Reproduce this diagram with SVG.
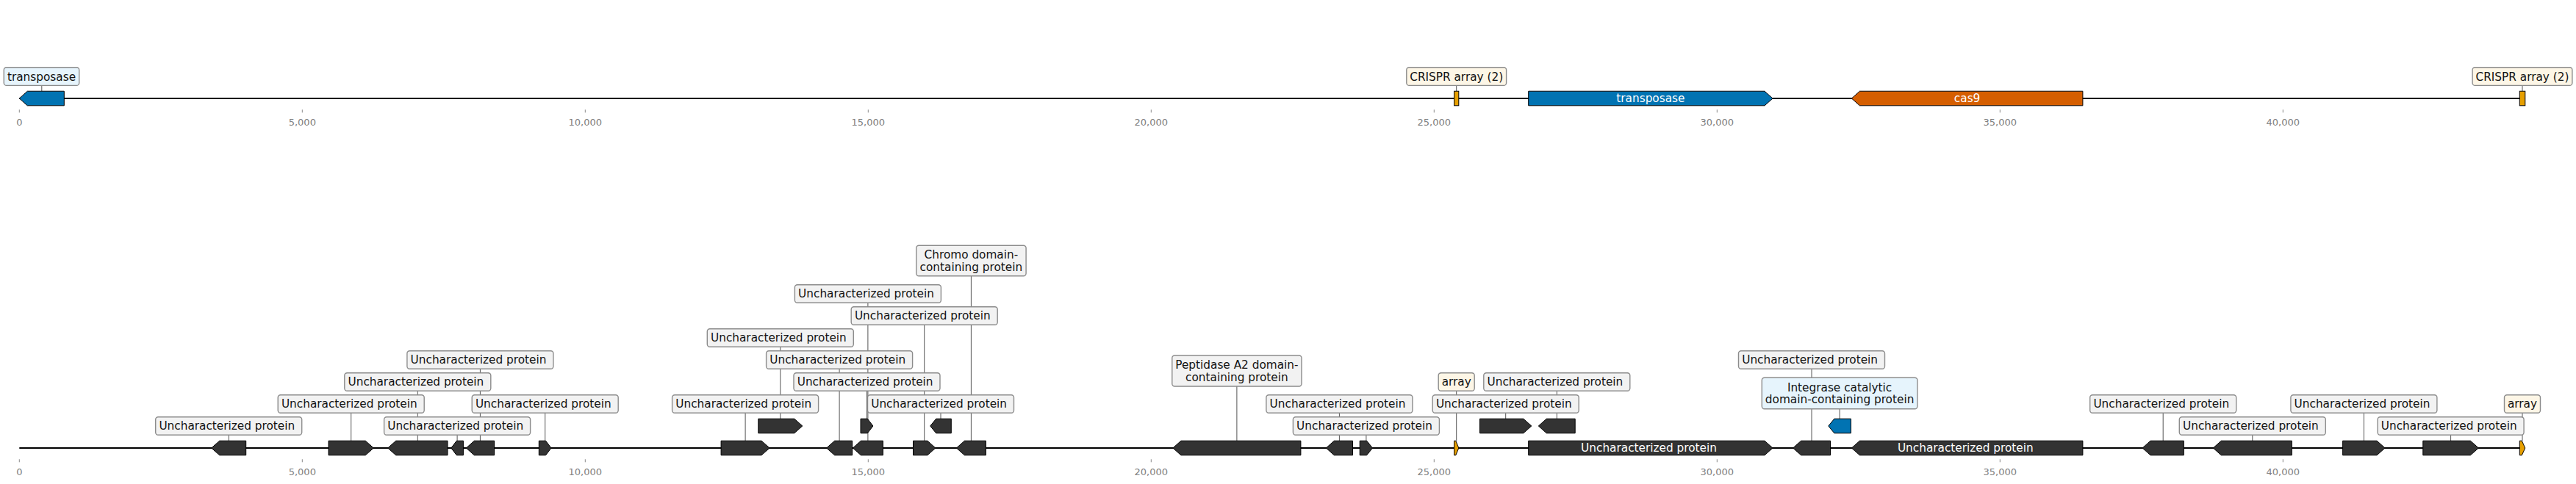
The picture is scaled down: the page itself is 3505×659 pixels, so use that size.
<svg xmlns="http://www.w3.org/2000/svg" width="3505" height="659" viewBox="0 0 3505 659">
<style>
text{font-family:"DejaVu Sans","Liberation Sans",sans-serif}
.bg{fill:#ffffff}
.track{stroke:#000;stroke-width:2.2;fill:none}
.tick{stroke:#8a8a8a;stroke-width:1}
.tl{font-size:13px;fill:#808080;text-anchor:middle}
.g{fill:#333333;stroke:#000;stroke-width:1}
.gb{fill:#0173b2;stroke:#000;stroke-width:1}
.go{fill:#d55e00;stroke:#000;stroke-width:1}
.ga{fill:#e69f00;stroke:#000;stroke-width:1}
.box{fill:#f2f2f2;stroke:#8c8c8c;stroke-width:1.4}
.boxb{fill:#e6f4fc;stroke:#8c8c8c;stroke-width:1.4}
.boxa{fill:#fdf6e6;stroke:#8c8c8c;stroke-width:1.4}
.lt{font-size:15.3px;fill:#111;text-anchor:middle}
.wt{font-size:15.3px;fill:#fff;text-anchor:middle}
#connectors line{stroke:#555;stroke-width:1}
</style>
<rect class="bg" x="0" y="0" width="3505" height="659"/>

<g id="axes">
<line class="track" x1="26.3" y1="134" x2="3435.8" y2="134"/>
<line class="track" x1="26.3" y1="610" x2="3435.8" y2="610"/>
<g id="ticks-top">
<line class="tick" x1="26.3" y1="149.3" x2="26.3" y2="153.3"/><text class="tl" x="26.3" y="171.2">0</text>
<line class="tick" x1="411.3" y1="149.3" x2="411.3" y2="153.3"/><text class="tl" x="411.3" y="171.2">5,000</text>
<line class="tick" x1="796.3" y1="149.3" x2="796.3" y2="153.3"/><text class="tl" x="796.3" y="171.2">10,000</text>
<line class="tick" x1="1181.3" y1="149.3" x2="1181.3" y2="153.3"/><text class="tl" x="1181.3" y="171.2">15,000</text>
<line class="tick" x1="1566.3" y1="149.3" x2="1566.3" y2="153.3"/><text class="tl" x="1566.3" y="171.2">20,000</text>
<line class="tick" x1="1951.3" y1="149.3" x2="1951.3" y2="153.3"/><text class="tl" x="1951.3" y="171.2">25,000</text>
<line class="tick" x1="2336.3" y1="149.3" x2="2336.3" y2="153.3"/><text class="tl" x="2336.3" y="171.2">30,000</text>
<line class="tick" x1="2721.3" y1="149.3" x2="2721.3" y2="153.3"/><text class="tl" x="2721.3" y="171.2">35,000</text>
<line class="tick" x1="3106.3" y1="149.3" x2="3106.3" y2="153.3"/><text class="tl" x="3106.3" y="171.2">40,000</text>
</g>
<g id="ticks-bottom">
<line class="tick" x1="26.3" y1="625.3" x2="26.3" y2="629.3"/><text class="tl" x="26.3" y="647.2">0</text>
<line class="tick" x1="411.3" y1="625.3" x2="411.3" y2="629.3"/><text class="tl" x="411.3" y="647.2">5,000</text>
<line class="tick" x1="796.3" y1="625.3" x2="796.3" y2="629.3"/><text class="tl" x="796.3" y="647.2">10,000</text>
<line class="tick" x1="1181.3" y1="625.3" x2="1181.3" y2="629.3"/><text class="tl" x="1181.3" y="647.2">15,000</text>
<line class="tick" x1="1566.3" y1="625.3" x2="1566.3" y2="629.3"/><text class="tl" x="1566.3" y="647.2">20,000</text>
<line class="tick" x1="1951.3" y1="625.3" x2="1951.3" y2="629.3"/><text class="tl" x="1951.3" y="647.2">25,000</text>
<line class="tick" x1="2336.3" y1="625.3" x2="2336.3" y2="629.3"/><text class="tl" x="2336.3" y="647.2">30,000</text>
<line class="tick" x1="2721.3" y1="625.3" x2="2721.3" y2="629.3"/><text class="tl" x="2721.3" y="647.2">35,000</text>
<line class="tick" x1="3106.3" y1="625.3" x2="3106.3" y2="629.3"/><text class="tl" x="3106.3" y="647.2">40,000</text>
</g>
</g>

<g id="connectors">
<line x1="56.8" y1="124.2" x2="56.8" y2="116.4"/>
<line x1="1981.7" y1="124.2" x2="1981.7" y2="116.4"/>
<line x1="3432" y1="124.2" x2="3432" y2="116.4"/>
<line x1="311.2" y1="600.2" x2="311.2" y2="592.3"/>
<line x1="477.7" y1="600.2" x2="477.7" y2="562.3"/>
<line x1="568.3" y1="600.2" x2="568.3" y2="532.3"/>
<line x1="622.1" y1="600.2" x2="622.1" y2="592.3"/>
<line x1="653.4" y1="600.2" x2="653.4" y2="502.3"/>
<line x1="741.7" y1="600.2" x2="741.7" y2="562.3"/>
<line x1="1014.1" y1="600.2" x2="1014.1" y2="562.3"/>
<line x1="1061.8" y1="570.2" x2="1061.8" y2="472.3"/>
<line x1="1142.1" y1="600.2" x2="1142.1" y2="502.3"/>
<line x1="1179.5" y1="570.2" x2="1179.5" y2="532.3"/>
<line x1="1180.9" y1="600.2" x2="1180.9" y2="412.3"/>
<line x1="1257.7" y1="600.2" x2="1257.7" y2="442.3"/>
<line x1="1280" y1="570.2" x2="1280" y2="562.3"/>
<line x1="1321.4" y1="600.2" x2="1321.4" y2="375.8"/>
<line x1="1682.9" y1="600.2" x2="1682.9" y2="526"/>
<line x1="1822.4" y1="600.2" x2="1822.4" y2="562.3"/>
<line x1="1858.9" y1="600.2" x2="1858.9" y2="592.3"/>
<line x1="1981.7" y1="600.2" x2="1981.7" y2="532.3"/>
<line x1="2048.7" y1="570.2" x2="2048.7" y2="562.3"/>
<line x1="2118.3" y1="570.2" x2="2118.3" y2="532.3"/>
<line x1="2465" y1="600.2" x2="2465" y2="502.3"/>
<line x1="2503.1" y1="570.2" x2="2503.1" y2="556.7"/>
<line x1="2943.2" y1="600.2" x2="2943.2" y2="562.3"/>
<line x1="3064.8" y1="600.2" x2="3064.8" y2="592.3"/>
<line x1="3216.4" y1="600.2" x2="3216.4" y2="562.3"/>
<line x1="3334.6" y1="600.2" x2="3334.6" y2="592.3"/>
<line x1="3432" y1="600.2" x2="3432" y2="562.3"/>
</g>

<!-- top track -->
<g id="top-transposase-1">
<polygon class="gb" points="26.3,134 37.3,124.2 87.3,124.2 87.3,143.8 37.3,143.8"/>
<rect class="boxb" x="5.3" y="91.8" width="102.4" height="24.6" rx="3.5"/>
<text class="lt" x="56.5" y="109.5">transposase</text>
</g>
<g id="top-crispr-1">
<rect class="ga" x="1978.6" y="124.2" width="6.2" height="19.6"/>
<rect class="boxa" x="1913.8" y="91.8" width="135.8" height="24.6" rx="3.5"/>
<text class="lt" x="1981.7" y="109.5">CRISPR array (2)</text>
</g>
<g id="top-transposase-2">
<polygon class="gb" points="2079.7,124.2 2401,124.2 2412,134 2401,143.8 2079.7,143.8"/>
<text class="wt" x="2245.9" y="139.4">transposase</text>
</g>
<g id="top-cas9">
<polygon class="go" points="2519.4,134 2530.4,124.2 2833.9,124.2 2833.9,143.8 2530.4,143.8"/>
<text class="wt" x="2676.6" y="139.4">cas9</text>
</g>
<g id="top-crispr-2">
<rect class="ga" x="3428.3" y="124.2" width="7.5" height="19.6"/>
<rect class="boxa" x="3364.1" y="91.8" width="135.8" height="24.6" rx="3.5"/>
<text class="lt" x="3432" y="109.5">CRISPR array (2)</text>
</g>

<!-- bottom track -->
<g id="f01"><polygon class="g" points="287.7,610 298.7,600.2 334.7,600.2 334.7,619.8 298.7,619.8"/>
<rect class="box" x="211.7" y="567.7" width="199" height="24.6" rx="3.5"/><text class="lt" x="308.8" y="585.4">Uncharacterized protein</text></g>
<g id="f02"><polygon class="g" points="447,600.2 497.3,600.2 508.3,610 497.3,619.8 447,619.8"/>
<rect class="box" x="378.2" y="537.7" width="199" height="24.6" rx="3.5"/><text class="lt" x="475.3" y="555.4">Uncharacterized protein</text></g>
<g id="f03"><polygon class="g" points="527.7,610 538.7,600.2 609,600.2 609,619.8 538.7,619.8"/>
<rect class="box" x="468.8" y="507.7" width="199" height="24.6" rx="3.5"/><text class="lt" x="565.9" y="525.4">Uncharacterized protein</text></g>
<g id="f04"><polygon class="g" points="613.8,610 621.3,600.2 630.4,600.2 630.4,619.8 621.3,619.8"/>
<rect class="box" x="522.6" y="567.7" width="199" height="24.6" rx="3.5"/><text class="lt" x="619.7" y="585.4">Uncharacterized protein</text></g>
<g id="f05"><polygon class="g" points="634.3,610 645.3,600.2 672.6,600.2 672.6,619.8 645.3,619.8"/>
<rect class="box" x="553.9" y="477.7" width="199" height="24.6" rx="3.5"/><text class="lt" x="651" y="495.4">Uncharacterized protein</text></g>
<g id="f06"><polygon class="g" points="733.3,600.2 742.5,600.2 750,610 742.5,619.8 733.3,619.8"/>
<rect class="box" x="642.2" y="537.7" width="199" height="24.6" rx="3.5"/><text class="lt" x="739.3" y="555.4">Uncharacterized protein</text></g>
<g id="f07"><polygon class="g" points="981.1,600.2 1036.1,600.2 1047.1,610 1036.1,619.8 981.1,619.8"/>
<rect class="box" x="914.6" y="537.7" width="199" height="24.6" rx="3.5"/><text class="lt" x="1011.7" y="555.4">Uncharacterized protein</text></g>
<g id="f08"><polygon class="g" points="1031.8,570.2 1080.8,570.2 1091.8,580 1080.8,589.8 1031.8,589.8"/>
<rect class="box" x="962.3" y="447.7" width="199" height="24.6" rx="3.5"/><text class="lt" x="1059.4" y="465.4">Uncharacterized protein</text></g>
<g id="f09"><polygon class="g" points="1124.6,610 1135.6,600.2 1159.6,600.2 1159.6,619.8 1135.6,619.8"/>
<rect class="box" x="1042.6" y="477.7" width="199" height="24.6" rx="3.5"/><text class="lt" x="1139.7" y="495.4">Uncharacterized protein</text></g>
<g id="f10"><polygon class="g" points="1171,570.2 1180.3,570.2 1187.9,580 1180.3,589.8 1171,589.8"/>
<rect class="box" x="1080" y="507.7" width="199" height="24.6" rx="3.5"/><text class="lt" x="1177.1" y="525.4">Uncharacterized protein</text></g>
<g id="f11"><polygon class="g" points="1160.4,610 1171.4,600.2 1201.4,600.2 1201.4,619.8 1171.4,619.8"/>
<rect class="box" x="1081.4" y="387.7" width="199" height="24.6" rx="3.5"/><text class="lt" x="1178.5" y="405.4">Uncharacterized protein</text></g>
<g id="f12"><polygon class="g" points="1242.5,600.2 1261.9,600.2 1272.9,610 1261.9,619.8 1242.5,619.8"/>
<rect class="box" x="1158.2" y="417.7" width="199" height="24.6" rx="3.5"/><text class="lt" x="1255.3" y="435.4">Uncharacterized protein</text></g>
<g id="f13"><polygon class="g" points="1265.7,580 1273.7,570.2 1294.3,570.2 1294.3,589.8 1273.7,589.8"/>
<rect class="box" x="1180.5" y="537.7" width="199" height="24.6" rx="3.5"/><text class="lt" x="1277.6" y="555.4">Uncharacterized protein</text></g>
<g id="f14"><polygon class="g" points="1301.4,610 1312.4,600.2 1341.4,600.2 1341.4,619.8 1312.4,619.8"/>
<rect class="box" x="1246.7" y="334.2" width="149.4" height="41.6" rx="3.5"/>
<text class="lt" x="1321.4" y="352.1">Chromo domain-</text><text class="lt" x="1321.4" y="368.7">containing protein</text></g>
<g id="f15"><polygon class="g" points="1595.9,610 1606.9,600.2 1769.9,600.2 1769.9,619.8 1606.9,619.8"/>
<rect class="box" x="1594.8" y="484" width="176.2" height="42" rx="3.5"/>
<text class="lt" x="1682.9" y="502.1">Peptidase A2 domain-</text><text class="lt" x="1682.9" y="518.7">containing protein</text></g>
<g id="f16"><polygon class="g" points="1804.3,610 1815.3,600.2 1840.5,600.2 1840.5,619.8 1815.3,619.8"/>
<rect class="box" x="1722.9" y="537.7" width="199" height="24.6" rx="3.5"/><text class="lt" x="1820" y="555.4">Uncharacterized protein</text></g>
<g id="f17"><polygon class="g" points="1850.2,600.2 1859.7,600.2 1867.5,610 1859.7,619.8 1850.2,619.8"/>
<rect class="box" x="1759.4" y="567.7" width="199" height="24.6" rx="3.5"/><text class="lt" x="1856.5" y="585.4">Uncharacterized protein</text></g>
<g id="f18"><polygon class="ga" points="1978.6,600.2 1980.8,600.2 1984.8,610 1980.8,619.8 1978.6,619.8"/>
<rect class="boxa" x="1957.2" y="507.7" width="49" height="24.6" rx="3.5"/><text class="lt" x="1981.7" y="525.4">array</text></g>
<g id="f19"><polygon class="g" points="2013.5,570.2 2072.8,570.2 2083.8,580 2072.8,589.8 2013.5,589.8"/>
<rect class="box" x="1949.2" y="537.7" width="199" height="24.6" rx="3.5"/><text class="lt" x="2046.3" y="555.4">Uncharacterized protein</text></g>
<g id="f20"><polygon class="g" points="2093.3,580 2104.3,570.2 2143.2,570.2 2143.2,589.8 2104.3,589.8"/>
<rect class="box" x="2018.8" y="507.7" width="199" height="24.6" rx="3.5"/><text class="lt" x="2115.9" y="525.4">Uncharacterized protein</text></g>
<g id="f21"><polygon class="g" points="2079.7,600.2 2401,600.2 2412,610 2401,619.8 2079.7,619.8"/>
<text class="wt" x="2243.5" y="615.4">Uncharacterized protein</text></g>
<g id="f22"><polygon class="g" points="2439.6,610 2450.6,600.2 2490.5,600.2 2490.5,619.8 2450.6,619.8"/>
<rect class="box" x="2365.5" y="477.7" width="199" height="24.6" rx="3.5"/><text class="lt" x="2462.6" y="495.4">Uncharacterized protein</text></g>
<g id="f23"><polygon class="gb" points="2487.8,580 2495.8,570.2 2518.4,570.2 2518.4,589.8 2495.8,589.8"/>
<rect class="boxb" x="2397.3" y="514.3" width="211.6" height="42.4" rx="3.5"/>
<text class="lt" x="2503.1" y="532.6">Integrase catalytic</text><text class="lt" x="2503.1" y="549.2">domain-containing protein</text></g>
<g id="f24"><polygon class="g" points="2519.4,610 2530.4,600.2 2833.9,600.2 2833.9,619.8 2530.4,619.8"/>
<text class="wt" x="2674.3" y="615.4">Uncharacterized protein</text></g>
<g id="f25"><polygon class="g" points="2915.1,610 2926.1,600.2 2971.3,600.2 2971.3,619.8 2926.1,619.8"/>
<rect class="box" x="2843.7" y="537.7" width="199" height="24.6" rx="3.5"/><text class="lt" x="2940.8" y="555.4">Uncharacterized protein</text></g>
<g id="f26"><polygon class="g" points="3011.3,610 3022.3,600.2 3118.3,600.2 3118.3,619.8 3022.3,619.8"/>
<rect class="box" x="2965.3" y="567.7" width="199" height="24.6" rx="3.5"/><text class="lt" x="3062.4" y="585.4">Uncharacterized protein</text></g>
<g id="f27"><polygon class="g" points="3187.6,600.2 3234.1,600.2 3245.1,610 3234.1,619.8 3187.6,619.8"/>
<rect class="box" x="3116.9" y="537.7" width="199" height="24.6" rx="3.5"/><text class="lt" x="3214" y="555.4">Uncharacterized protein</text></g>
<g id="f28"><polygon class="g" points="3296.8,600.2 3361.4,600.2 3372.4,610 3361.4,619.8 3296.8,619.8"/>
<rect class="box" x="3235.1" y="567.7" width="199" height="24.6" rx="3.5"/><text class="lt" x="3332.2" y="585.4">Uncharacterized protein</text></g>
<g id="f29"><polygon class="ga" points="3428.3,600.2 3431.3,600.2 3435.8,610 3431.3,619.8 3428.3,619.8"/>
<rect class="boxa" x="3407.5" y="537.7" width="49" height="24.6" rx="3.5"/><text class="lt" x="3432" y="555.4">array</text></g>
</svg>
